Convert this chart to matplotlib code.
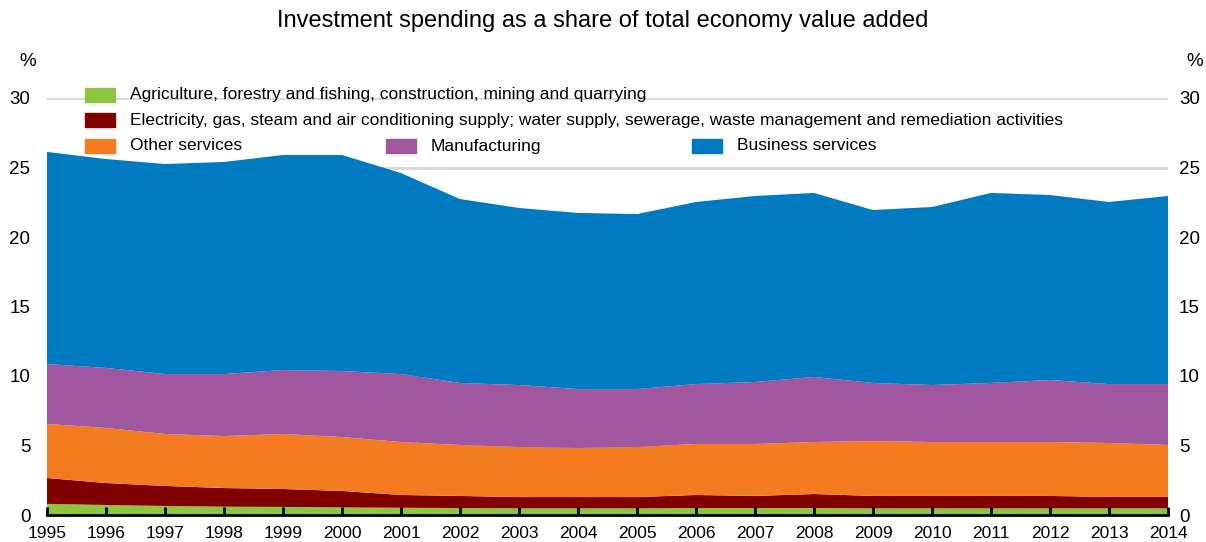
import numpy as np
import matplotlib.pyplot as plt
from matplotlib.patches import Rectangle

years = list(range(1995, 2015))

# shares of total economy value added, %, each layer stacked from the bottom
agriculture = [0.80, 0.72, 0.65, 0.60, 0.58, 0.55, 0.52, 0.50, 0.48, 0.48,
               0.48, 0.50, 0.50, 0.50, 0.48, 0.48, 0.48, 0.48, 0.48, 0.48]
electricity = [1.86, 1.58, 1.44, 1.34, 1.29, 1.18, 0.92, 0.87, 0.81, 0.81,
               0.81, 0.94, 0.87, 1.01, 0.89, 0.89, 0.89, 0.89, 0.82, 0.82]
other_services = [3.89, 3.96, 3.74, 3.74, 3.96, 3.88, 3.81, 3.67, 3.60, 3.53,
                  3.60, 3.67, 3.74, 3.74, 3.95, 3.88, 3.88, 3.88, 3.88, 3.74]
manufacturing = [4.31, 4.32, 4.31, 4.46, 4.60, 4.75, 4.89, 4.46, 4.46, 4.24,
                 4.17, 4.31, 4.46, 4.68, 4.18, 4.10, 4.25, 4.46, 4.24, 4.38]
business = [15.26, 15.03, 15.11, 15.26, 15.47, 15.54, 14.46, 13.23, 12.74, 12.67,
            12.59, 13.10, 13.38, 13.24, 12.44, 12.81, 13.67, 13.31, 13.10, 13.53]

labels = ["Agriculture, forestry and fishing, construction, mining and quarrying",
          "Electricity, gas, steam and air conditioning supply; water supply, sewerage, waste management and remediation activities",
          "Other services", "Manufacturing", "Business services"]
colors = ["#8CC63F", "#800000", "#F47B20", "#A156A0", "#007BC1"]
yticks = [0, 5, 10, 15, 20, 25, 30]

W, H = 1206, 542
font = "Liberation Sans"

fig = plt.figure(figsize=(W / 100, H / 100), dpi=100)
ax = fig.add_axes([47 / W, 1 - 515 / H, (1168 - 47) / W, (515 - 98) / H])

ax.stackplot(years, agriculture, electricity, other_services, manufacturing, business,
             colors=colors, linewidth=0, zorder=2)

ax.set_xlim(1995, 2014)
ax.set_ylim(0, 30)
ax.set_axisbelow(False)
ax.set_xticks(years)
ax.set_xticklabels([str(y) for y in years], family=font, fontsize=12.5)
ax.set_yticks(yticks)
ax.set_yticklabels([str(v) for v in yticks], family=font, fontsize=13.5)
ax.tick_params(axis="y", length=0, pad=12)
ax.tick_params(axis="x", direction="in", length=6, width=2, pad=8, color="black")
for g in yticks[1:]:
    ax.axhline(g, color="#D9D9D9", lw=2.2, zorder=1)
for s in ["top", "left", "right"]:
    ax.spines[s].set_visible(False)
ax.spines["bottom"].set_linewidth(2)
ax.spines["bottom"].set_zorder(5)

# right-hand scale, same values
ax2 = ax.twinx()
ax2.set_ylim(0, 30)
ax2.set_yticks(yticks)
ax2.set_yticklabels([str(v) for v in yticks], family=font, fontsize=13.5)
ax2.tick_params(axis="y", length=0, pad=8)
for s in ax2.spines.values():
    s.set_visible(False)

fig.text(603 / W, 1 - 21 / H, "Investment spending as a share of total economy value added",
         ha="center", va="center", fontsize=17, family=font)
fig.text(28 / W, 1 - 62 / H, "%", ha="center", va="center", fontsize=13.5, family=font)
fig.text(1195 / W, 1 - 62 / H, "%", ha="center", va="center", fontsize=13.5, family=font)

# legend, laid out by hand: two full rows, then three entries on one row
slots = [(85, 95), (85, 120), (85, 146), (386, 146), (692, 146)]
for (px, py), lab, col in zip(slots, labels, colors):
    fig.patches.append(Rectangle((px / W, 1 - (py + 7) / H), 30 / W, 14 / H,
                                 transform=fig.transFigure, color=col, zorder=10))
    fig.text((px + 45) / W, 1 - py / H, lab, ha="left", va="center",
             fontsize=12.5, family=font, zorder=11)

fig.savefig("out.png", dpi=100)
